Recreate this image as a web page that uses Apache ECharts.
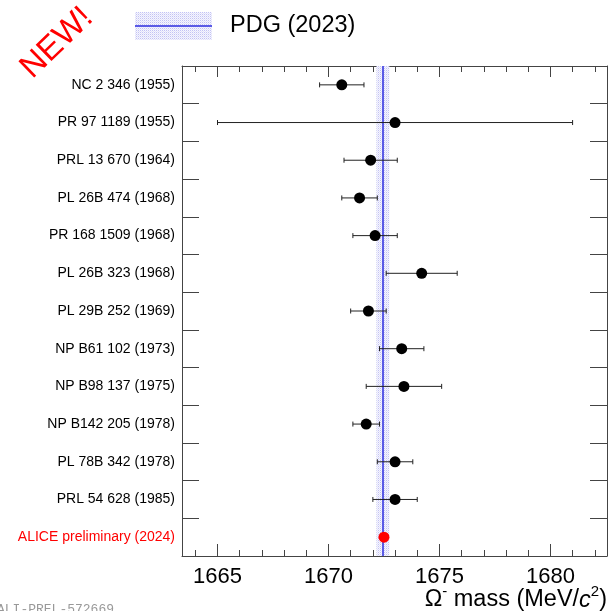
<!DOCTYPE html>
<html>
<head>
<meta charset="utf-8">
<script src="https://cdn.jsdelivr.net/npm/echarts@6/dist/echarts.min.js"></script>
<style>
  html, body { margin: 0; padding: 0; background: #fff; }
  #chart { width: 609px; height: 611px; }
</style>
</head>
<body>
<div id="chart"></div>
<script>
// Omega^- mass measurements (MeV/c^2) with their uncertainties
const categories = [
  'NC 2 346 (1955)',
  'PR 97 1189 (1955)',
  'PRL 13 670 (1964)',
  'PL 26B 474 (1968)',
  'PR 168 1509 (1968)',
  'PL 26B 323 (1968)',
  'PL 29B 252 (1969)',
  'NP B61 102 (1973)',
  'NP B98 137 (1975)',
  'NP B142 205 (1978)',
  'PL 78B 342 (1978)',
  'PRL 54 628 (1985)',
  'ALICE preliminary (2024)'
];
const masses = [1670.6, 1673.0, 1671.9, 1671.4, 1672.1, 1674.2, 1671.8, 1673.3, 1673.4, 1671.7, 1673.0, 1673.0, 1672.5];
const errors = [1.0, 8.0, 1.2, 0.8, 1.0, 1.6, 0.8, 1.0, 1.7, 0.6, 0.8, 1.0, 0.1];

// PDG (2023) world average
const pdgMass = 1672.45;
const pdgError = 0.29;

// axis range and tick positions
const xMin = 1663.4;
const xMax = 1682.55;
const majorTicks = [1665, 1670, 1675, 1680];
const minorTicks = [1664, 1665, 1666, 1667, 1668, 1669, 1670, 1671, 1672, 1673, 1674, 1675, 1676, 1677, 1678, 1679, 1680, 1681, 1682];

const FONT = 'Liberation Sans, Arial, Helvetica, sans-serif';
const FRAME = '#444';
const PDG_LINE = '#5a5ae6';
const highlightIndex = categories.length - 1;

// dotted fill used for the PDG band
function dotPattern() {
  const c = document.createElement('canvas');
  c.width = 2; c.height = 2;
  const g = c.getContext('2d');
  g.fillStyle = '#f6f6fe'; g.fillRect(0, 0, 2, 2);
  g.fillStyle = '#c2c2f4'; g.fillRect(0, 0, 1, 1);
  g.fillStyle = '#e2e2fa'; g.fillRect(1, 1, 1, 1);
  return c;
}
const bandFill = { image: dotPattern(), repeat: 'repeat' };

const chart = echarts.init(document.getElementById('chart'), null, { renderer: 'canvas' });

function xAxisDef(position, ticks, len, showLine, labels) {
  return {
    type: 'value', position: position, min: xMin, max: xMax,
    axisLine: { show: showLine, onZero: false, lineStyle: { color: FRAME, width: 1 } },
    axisTick: { show: true, inside: true, length: len, customValues: ticks, lineStyle: { color: FRAME, width: 1 } },
    axisLabel: labels ? {
      show: true, customValues: majorTicks, margin: 10, fontSize: 22, color: '#000', fontFamily: FONT,
      formatter: v => String(Math.round(v))
    } : { show: false },
    splitLine: { show: false }
  };
}

const yData = categories.map((c, i) => i === highlightIndex
  ? { value: c, textStyle: { color: '#ff0000' } }
  : c);

chart.setOption({
  animation: false,
  backgroundColor: '#fff',
  grid: { left: 182, top: 66, width: 425, height: 490, containLabel: false },
  xAxis: [
    xAxisDef('bottom', majorTicks, 12, true, true),
    xAxisDef('bottom', minorTicks, 6, false, false),
    xAxisDef('top', majorTicks, 11, true, false),
    xAxisDef('top', minorTicks, 6, false, false)
  ],
  yAxis: [
    {
      type: 'category', data: yData, inverse: true, position: 'left',
      axisLine: { show: true, lineStyle: { color: FRAME, width: 1 } },
      axisTick: { show: true, inside: true, length: 17, lineStyle: { color: FRAME, width: 1 } },
      axisLabel: { show: true, margin: 7, fontSize: 14, color: '#000', fontFamily: FONT },
      splitLine: { show: false }
    },
    {
      type: 'category', data: categories, inverse: true, position: 'right',
      axisLine: { show: true, lineStyle: { color: FRAME, width: 1 } },
      axisTick: { show: true, inside: true, length: 17, lineStyle: { color: FRAME, width: 1 } },
      axisLabel: { show: false },
      splitLine: { show: false }
    }
  ],
  series: [
    {
      // PDG band and central value
      name: 'PDG (2023)', type: 'scatter', data: [], xAxisIndex: 0, yAxisIndex: 0, z: 1,
      markArea: {
        silent: true, z: 1,
        itemStyle: { color: bandFill, borderWidth: 0, opacity: 1 },
        data: [[{ xAxis: pdgMass - pdgError }, { xAxis: pdgMass + pdgError }]]
      },
      markLine: {
        silent: true, symbol: 'none', z: 1,
        label: { show: false },
        lineStyle: { color: PDG_LINE, width: 2, type: 'solid', opacity: 1 },
        data: [{ xAxis: pdgMass }]
      }
    },
    {
      // horizontal error bars with end caps
      type: 'custom', xAxisIndex: 0, yAxisIndex: 0, z: 2,
      data: masses.map((m, i) => [m - errors[i], m + errors[i], i]),
      encode: { x: [0, 1], y: 2 },
      renderItem: function (params, api) {
        const p0 = api.coord([api.value(0), api.value(2)]);
        const p1 = api.coord([api.value(1), api.value(2)]);
        const h = 2.5;
        const style = { stroke: '#222', lineWidth: 1 };
        return {
          type: 'group',
          children: [
            { type: 'line', shape: { x1: p0[0], y1: p0[1], x2: p1[0], y2: p1[1] }, style: style },
            { type: 'line', shape: { x1: p0[0], y1: p0[1] - h, x2: p0[0], y2: p0[1] + h }, style: style },
            { type: 'line', shape: { x1: p1[0], y1: p1[1] - h, x2: p1[0], y2: p1[1] + h }, style: style }
          ]
        };
      }
    },
    {
      // central values
      type: 'scatter', xAxisIndex: 0, yAxisIndex: 0, z: 3,
      symbol: 'circle', symbolSize: 11,
      data: masses.map((m, i) => ({
        value: [m, i],
        itemStyle: { color: i === highlightIndex ? '#ff0000' : '#000', opacity: 1 }
      }))
    }
  ],
  graphic: [
    // legend entry
    { type: 'rect', shape: { x: 135, y: 12, width: 77, height: 28 }, style: { fill: bandFill } },
    { type: 'line', shape: { x1: 135, y1: 26, x2: 212, y2: 26 }, style: { stroke: PDG_LINE, lineWidth: 2 } },
    { type: 'text', x: 230, y: 26, style: { text: 'PDG (2023)', font: '23.5px ' + FONT, fill: '#000', align: 'left', verticalAlign: 'middle' } },
    // badge
    { type: 'text', x: 57, y: 43, rotation: 44 * Math.PI / 180,
      style: { text: 'NEW!', font: '33px ' + FONT, fill: '#ff0000', align: 'center', verticalAlign: 'middle' } },
    // axis title
    { type: 'text', x: 607, y: 598,
      style: {
        text: '{t|Ω}{s|-}{t| mass (MeV/}{i|c}{s|2}{t|)}',
        align: 'right', verticalAlign: 'middle',
        rich: {
          t: { fontSize: 23.5, fontFamily: FONT, fill: '#000', verticalAlign: 'bottom', lineHeight: 27 },
          i: { fontSize: 23.5, fontFamily: FONT, fontStyle: 'italic', fill: '#000', verticalAlign: 'bottom', lineHeight: 27 },
          s: { fontSize: 15, fontFamily: FONT, fill: '#000', verticalAlign: 'top', lineHeight: 27 }
        }
      } },
    // figure identifier
    { type: 'text', x: -3, y: 603,
      style: { text: 'ALI-PREL-572669', font: '13px Liberation Mono, monospace', fill: '#999', align: 'left', verticalAlign: 'top' } }
  ]
});
</script>
</body>
</html>
